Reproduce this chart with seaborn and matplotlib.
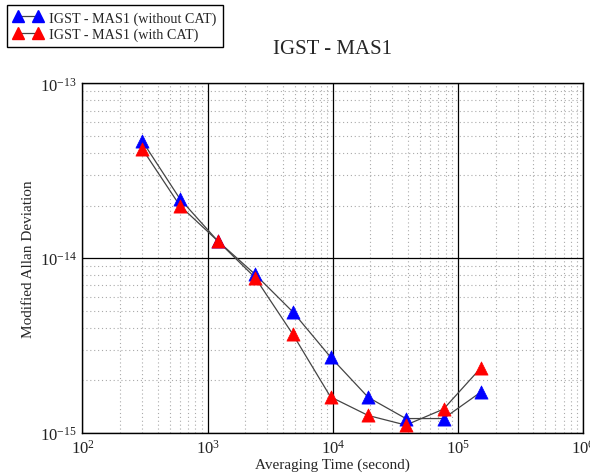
import matplotlib
matplotlib.use("Agg")
import matplotlib.pyplot as plt
import seaborn as sns
import pandas as pd
import numpy as np
from matplotlib.lines import Line2D
from matplotlib.ticker import LogLocator, NullFormatter

tau = [300, 600, 1200, 2400, 4800, 9600, 19200, 38400, 76800, 153600]
mdev_without_cat = [4.69e-14, 2.19e-14, 1.26e-14, 8.08e-15, 4.93e-15, 2.72e-15,
                    1.60e-15, 1.21e-15, 1.21e-15, 1.72e-15]
mdev_with_cat = [4.23e-14, 2.00e-14, 1.26e-14, 7.74e-15, 3.67e-15, 1.61e-15,
                 1.26e-15, 1.11e-15, 1.37e-15, 2.37e-15]
series_names = ["IGST - MAS1 (without CAT)", "IGST - MAS1 (with CAT)"]
series_colors = ["#0000ff", "#ff0000"]

df = pd.DataFrame({
    "tau": tau * 2,
    "mdev": mdev_without_cat + mdev_with_cat,
    "series": [series_names[0]] * len(tau) + [series_names[1]] * len(tau),
})

sns.set_style("white")
plt.rcParams['font.family'] = ['Liberation Serif', 'DejaVu Serif']
plt.rcParams['mathtext.fontset'] = 'stix'

fig = plt.figure(figsize=(5.9, 4.77), dpi=100)
ax = fig.add_axes([0.1398, 0.0901, 0.8483, 0.7328])

for name, col in zip(series_names, series_colors):
    sub = df[df["series"] == name]
    sns.lineplot(data=sub, x="tau", y="mdev", ax=ax, color="#444444",
                 linewidth=0.9, legend=False, zorder=3)
    sns.scatterplot(data=sub, x="tau", y="mdev", ax=ax, color=col, marker="^",
                    s=90, edgecolor=col, linewidth=0.5, legend=False, zorder=4)

ax.set_xscale("log")
ax.set_yscale("log")
ax.set_xlim(1e2, 1e6)
ax.set_ylim(1e-15, 1e-13)

ax.xaxis.set_major_locator(LogLocator(base=10, numticks=10))
ax.yaxis.set_major_locator(LogLocator(base=10, numticks=10))
ax.xaxis.set_minor_locator(LogLocator(base=10, subs=np.arange(2, 10), numticks=50))
ax.yaxis.set_minor_locator(LogLocator(base=10, subs=np.arange(2, 10), numticks=50))
ax.xaxis.set_minor_formatter(NullFormatter())
ax.yaxis.set_minor_formatter(NullFormatter())

ax.grid(True, which="major", color="black", linewidth=0.9, linestyle="-")
ax.grid(True, which="minor", color="#aaaaaa", linewidth=0.8, linestyle=(0, (1, 2.5)))
ax.set_axisbelow(True)
ax.tick_params(which="both", length=0, labelsize=12, colors="#222222")
ax.tick_params(axis="x", pad=4)
ax.tick_params(axis="y", pad=4)

for sp in ax.spines.values():
    sp.set_color("black")
    sp.set_linewidth(1.0)

ax.set_xlabel("Averaging Time (second)", fontsize=11, labelpad=1)
ax.set_ylabel("Modified Allan Deviation", fontsize=11, labelpad=4)
ax.set_title("IGST - MAS1", fontsize=15, pad=22)

handles = [Line2D([0], [0], color="#444444", linewidth=0.9, marker="^",
                  markersize=9, markerfacecolor=c, markeredgecolor=c)
           for c in series_colors]
leg = fig.legend(handles, series_names, loc="upper left",
                 bbox_to_anchor=(0.012, 0.988), fontsize=10.2, frameon=True,
                 fancybox=False, edgecolor="black", framealpha=1,
                 handlelength=2.0, borderpad=0.45, labelspacing=0.2,
                 handletextpad=0.5, numpoints=2, borderaxespad=0)
leg.get_frame().set_linewidth(1.0)

fig.savefig("out.png", dpi=100)
